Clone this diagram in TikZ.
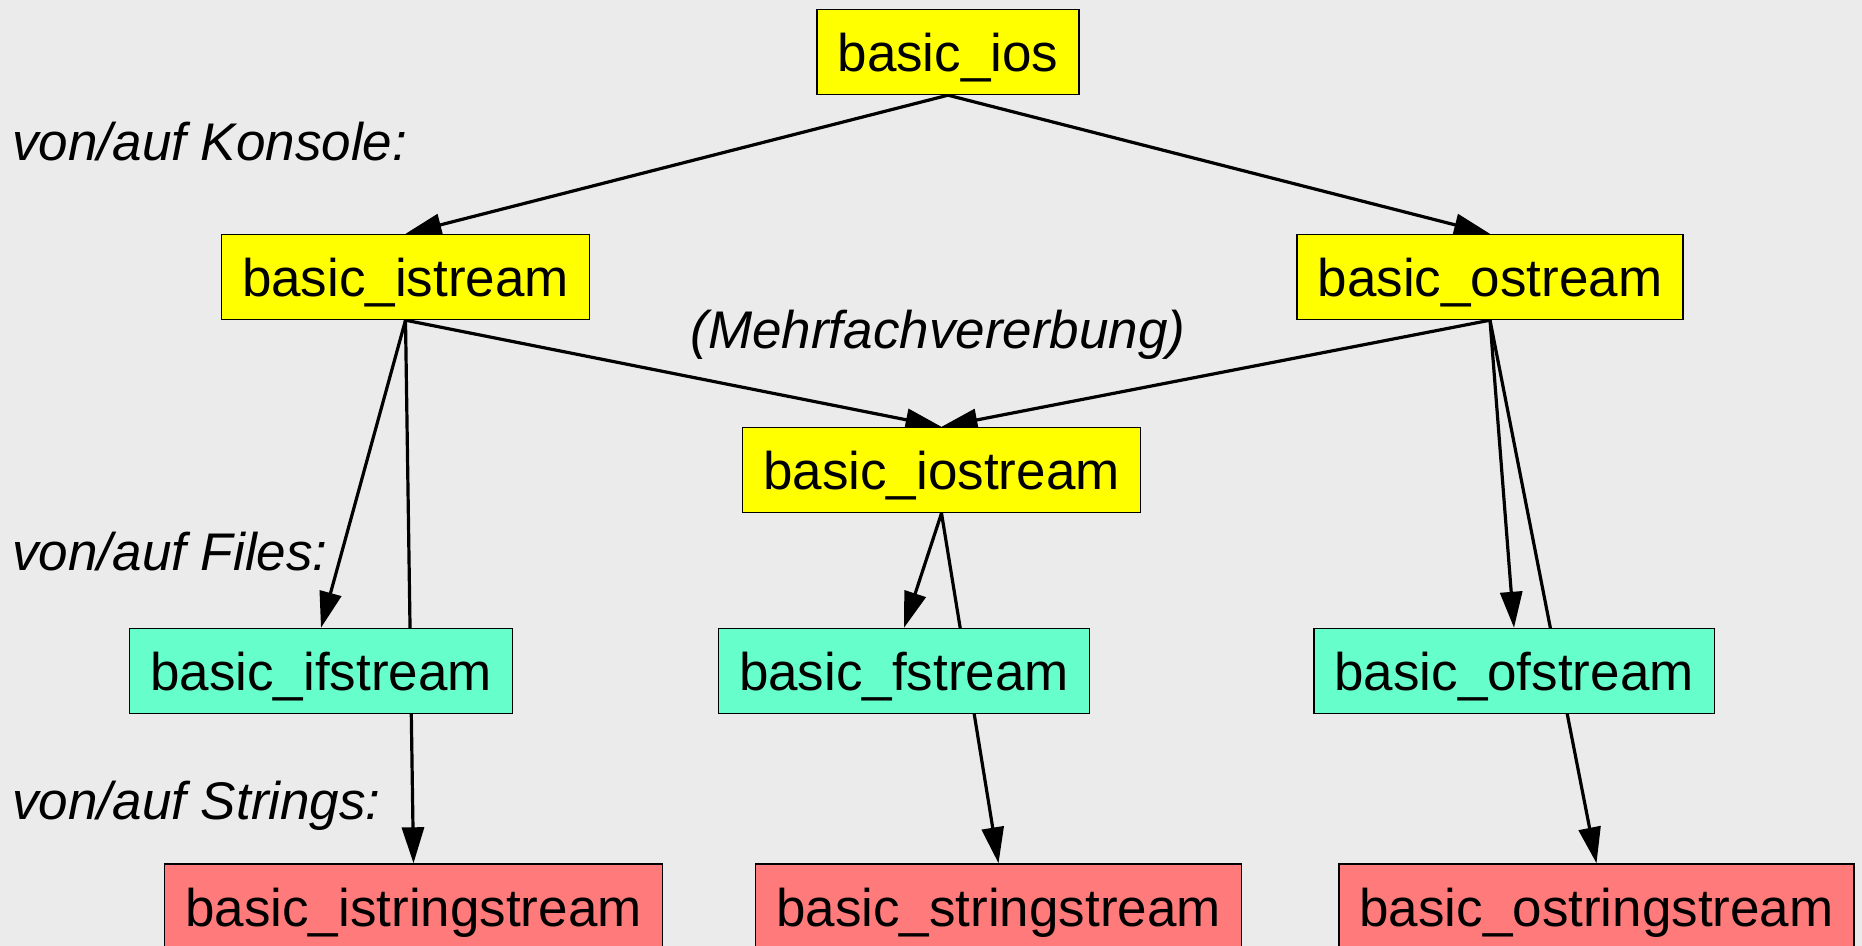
\documentclass[tikz,border=0pt]{standalone}
\usepackage{fontspec}
\setmainfont{Liberation Sans}
\usetikzlibrary{arrows.meta,backgrounds}

\definecolor{bggray}{RGB}{235,235,235}
\definecolor{iosyellow}{RGB}{255,255,0}
\definecolor{filegreen}{RGB}{102,255,204}
\definecolor{strred}{RGB}{255,122,122}

\begin{document}
\begin{tikzpicture}[x=0.5pt, y=-0.5pt,
    cls/.style = {draw, line width=0.7pt, rectangle, inner xsep=10.25pt, inner ysep=0pt,
                  text height=19.5pt, text depth=0pt,
                  minimum height=42.5pt, font=\fontsize{26.5}{30}\selectfont},
    konsole/.style = {cls, fill=iosyellow},
    file/.style = {cls, fill=filegreen},
    str/.style = {cls, fill=strred},
    lbl/.style = {inner sep=0pt, font=\fontsize{26.5}{30}\selectfont\itshape},
    arr/.style = {line width=1.6pt, -{Triangle[length=18pt,width=11pt]}}]
    \useasboundingbox (0,0) rectangle (1862,946);

    \node[konsole] (ios) at (948,52) {basic\_ios};
    \node[konsole] (istream) at (405.5,277) {basic\_istream};
    \node[konsole] (ostream) at (1490,277) {basic\_ostream};
    \node[konsole] (iostream) at (941.5,470) {basic\_iostream};

    \node[file] (ifstream) at (321,671) {basic\_ifstream};
    \node[file] (fstream) at (904,671) {basic\_fstream};
    \node[file] (ofstream) at (1514,671) {basic\_ofstream};

    \node[str] (istringstream) at (413.5,906.5) {basic\_istringstream};
    \node[str] (stringstream) at (998.5,906.5) {basic\_stringstream};
    \node[str] (ostringstream) at (1596.5,906.5) {basic\_ostringstream};

    \node[lbl, anchor=west] (konsolelbl) at (12,142) {von/auf Konsole:};
    \node[lbl, anchor=west] (fileslbl) at (12,552) {von/auf Files:};
    \node[lbl, anchor=west] (stringslbl) at (12,806) {von/auf Strings:};
    \node[lbl] (mehrfach) at (938,335) {(Mehrfachvererbung)};

    \begin{pgfonlayer}{background}
        \fill[bggray] (0,0) rectangle (1862,946);

        \path[arr] (ios.south) edge (istream.north);
        \path[arr] (ios.south) edge (ostream.north);
        \path[arr] (istream.south) edge (iostream.north);
        \path[arr] (ostream.south) edge (iostream.north);

        \path[arr] (istream.south) edge (ifstream.north);
        \path[arr] (iostream.south) edge (fstream.north);
        \path[arr] (ostream.south) edge (ofstream.north);

        % string streams inherit past the file boxes
        \path[arr] (istream.south) edge (istringstream.north);
        \path[arr] (iostream.south) edge (stringstream.north);
        \path[arr] (ostream.south) edge (ostringstream.north);
    \end{pgfonlayer}
\end{tikzpicture}
\end{document}
